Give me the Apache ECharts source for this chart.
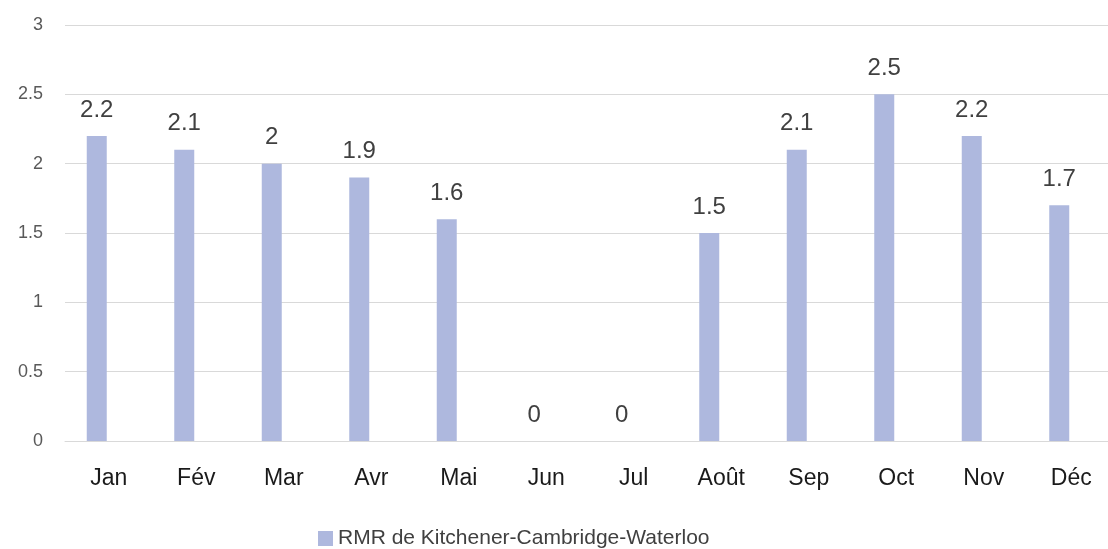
<!DOCTYPE html>
<html>
<head>
<meta charset="utf-8">
<script src="https://cdn.jsdelivr.net/npm/echarts@6/dist/echarts.min.js"></script>
<style>
  html, body { margin: 0; padding: 0; background: #fff; }
  #chart { width: 1108px; height: 549px; }
</style>
</head>
<body>
<div id="chart"></div>
<script>
// data
var months = ['Jan', 'Fév', 'Mar', 'Avr', 'Mai', 'Jun', 'Jul', 'Août', 'Sep', 'Oct', 'Nov', 'Déc']
var rmrValues = [2.2, 2.1, 2, 1.9, 1.6, 0, 0, 1.5, 2.1, 2.5, 2.2, 1.7]
// empty second slot: the source chart keeps the bar on the left of each category
var emptyValues = [null, null, null, null, null, null, null, null, null, null, null, null]
var seriesName = 'RMR de Kitchener-Cambridge-Waterloo'

var chart = echarts.init(document.getElementById('chart'))
chart.setOption({
  animation: false,
  textStyle: { fontFamily: 'Liberation Sans, Arial, sans-serif' },
  grid: {
    left: 65,
    width: 1050,
    top: 25,
    bottom: 108,
    outerBoundsMode: 'none'
  },
  legend: {
    top: 523,
    left: 313,
    icon: 'rect',
    itemWidth: 15,
    itemHeight: 15,
    itemGap: 6,
    textStyle: { fontSize: 21, color: '#404040' },
    data: [seriesName]
  },
  xAxis: {
    type: 'category',
    data: months,
    axisLine: { lineStyle: { color: '#d9d9d9', width: 1 } },
    axisTick: { show: false },
    axisLabel: { color: '#1a1a1a', fontSize: 23, margin: 26 }
  },
  yAxis: {
    type: 'value',
    min: 0,
    max: 3,
    interval: 0.5,
    axisLine: { show: false },
    axisTick: { show: false },
    splitLine: { lineStyle: { color: '#d9d9d9', width: 1 } },
    axisLabel: { color: '#595959', fontSize: 18, margin: 22 }
  },
  series: [
    {
      name: seriesName,
      type: 'bar',
      data: rmrValues,
      barWidth: 20,
      barGap: '20%',
      itemStyle: { color: '#aeb8de' },
      label: {
        show: true,
        position: 'top',
        distance: 14,
        fontSize: 24,
        color: '#404040'
      }
    },
    {
      name: 'vide',
      type: 'bar',
      data: emptyValues,
      barWidth: 20
    }
  ]
})
</script>
</body>
</html>
